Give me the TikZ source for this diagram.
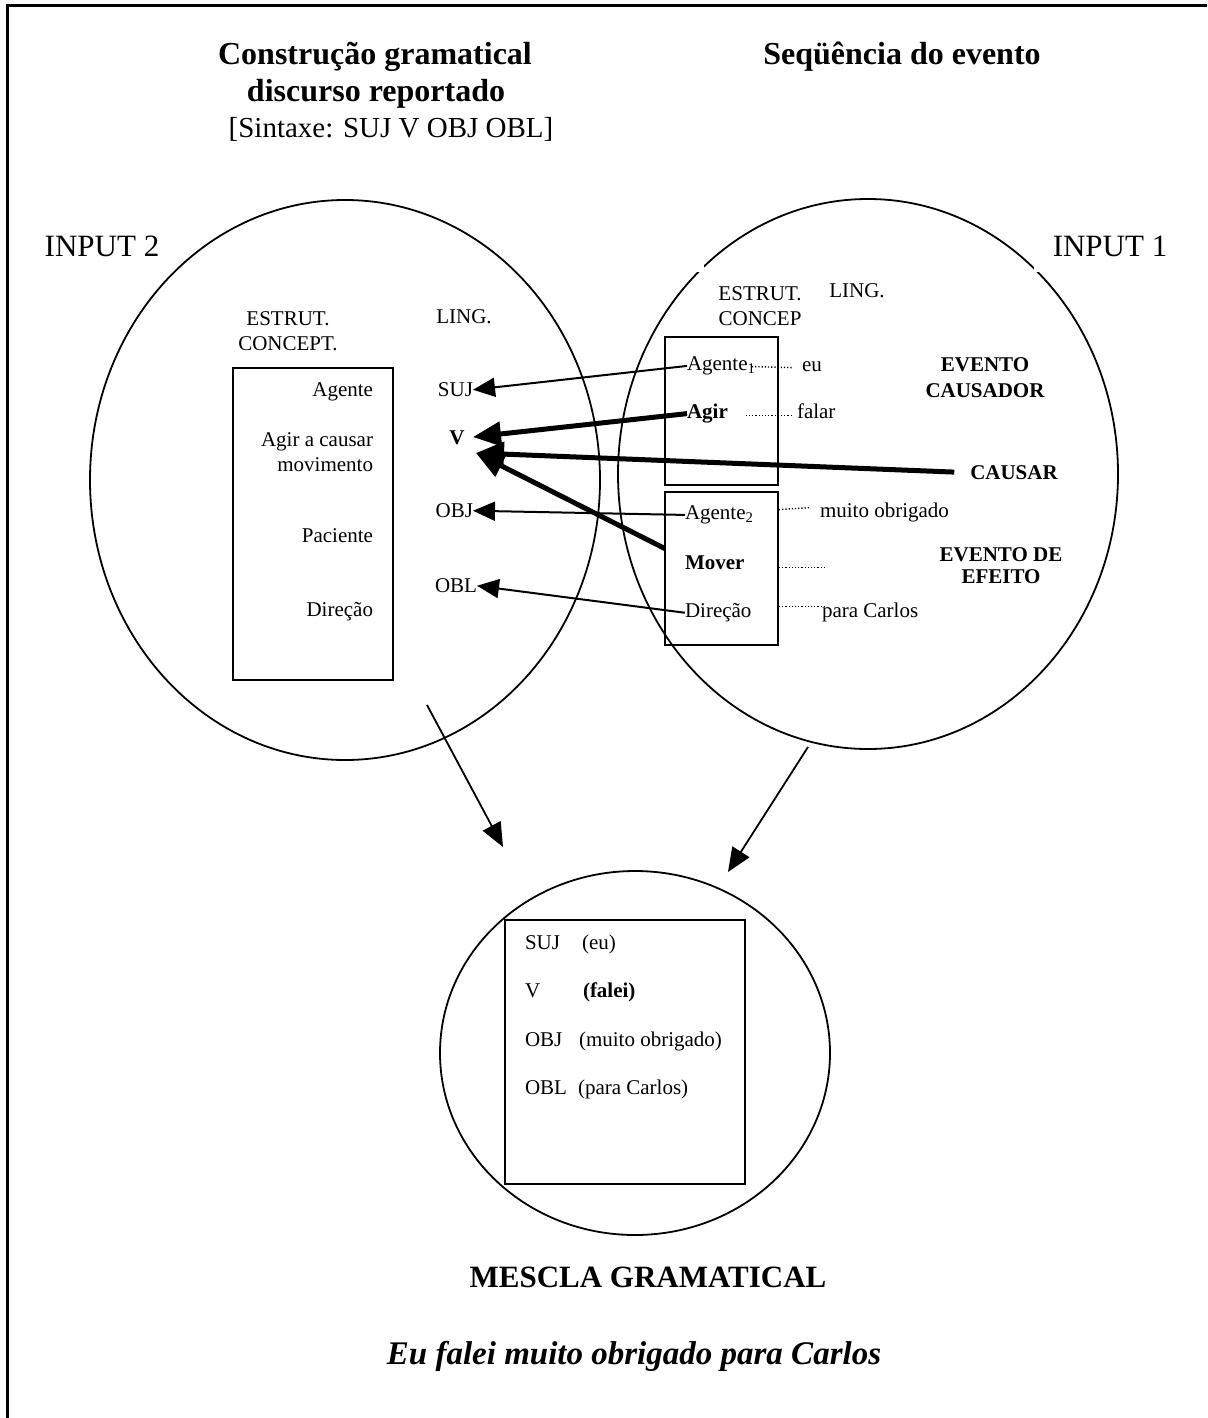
\documentclass[tikz,border=0pt]{standalone}
\usepackage{fontspec}
\setmainfont{Liberation Serif}
\usetikzlibrary{arrows.meta,calc}

\newcommand\fsz[2]{\fontsize{#1}{#2}\selectfont}

\begin{document}
\begin{tikzpicture}[x=0.5pt,y=-0.5pt,
  every node/.style={inner sep=0pt,outer sep=0pt},
  txt/.style={font=\fsz{10.5}{12.5}},
  btxt/.style={font=\fsz{10.5}{12.5}\bfseries},
  oval/.style={line width=0.9pt},
  frame/.style={draw,line width=1pt},
  thinarrow/.style={line width=1pt,-{Triangle[length=11pt,width=9.5pt]}},
  thickarrow/.style={line width=2.5pt,-{Triangle[length=14pt,width=12pt]}},
  bigarrow/.style={line width=0.9pt,-{Triangle[length=12pt,width=10pt]}},
  dotln/.style={line width=0.7pt,dash pattern=on 0.6pt off 1pt}]

\useasboundingbox (0,0) rectangle (1207,1418);
\draw[line width=1.5pt] (7,1418) -- (7,6) -- (1207,6);

% headings
\node[font=\fsz{16}{18}\bfseries,anchor=mid] (t1) at (375,60) {Construção gramatical};
\node[font=\fsz{16}{18}\bfseries,anchor=mid] (t2) at (376,97) {discurso reportado};
\node[font=\fsz{14.5}{17},anchor=mid] (t3) at (391,133) {[Sintaxe: SUJ V OBJ OBL]};
\node[font=\fsz{16}{18}\bfseries,anchor=mid] (t4) at (902,60) {Seqüência do evento};

% the two input spaces and the blend
\draw[oval] (345,480) ellipse [x radius=127.5pt, y radius=140pt];
\draw[oval] (868,474) ellipse [x radius=125pt, y radius=137.5pt];
\fill[white] (697,263) rectangle (704,272);
\fill[white] (1034,262) rectangle (1042,272);
\draw[oval] (635,1053) ellipse [x radius=97.5pt, y radius=91pt];

\node[font=\fsz{15.5}{18},anchor=mid] (in2) at (102,252) {INPUT 2};
\node[font=\fsz{15.5}{18},anchor=mid] (in1) at (1110,252) {INPUT 1};

% input 2: grammatical construction
\node[txt,align=center] (estL) at (288,331) {ESTRUT.\\CONCEPT.};
\node[txt,anchor=mid] (lingL) at (464,319) {LING.};
\node[frame,minimum width=80pt,minimum height=156pt] (boxL) at (313,524) {};
\node[txt,anchor=mid east] (agL) at (373,392) {Agente};
\node[txt,align=right,anchor=east] (agirL) at (373,452) {Agir a causar\\movimento};
\node[txt,anchor=mid east] (pacL) at (373,538) {Paciente};
\node[txt,anchor=mid east] (dirL) at (373,612) {Direção};

\node[txt,anchor=mid east] (suj) at (473,392) {SUJ};
\node[btxt,anchor=mid] (verb) at (457,440) {V};
\node[txt,anchor=mid east] (obj) at (473,513) {OBJ};
\node[txt,anchor=mid east] (obl) at (477,588) {OBL};
\coordinate (vtipA) at (473,437);
\coordinate (vtipB) at (476,453);

% input 1: event sequence
\node[txt,align=center] (estR) at (760,306) {ESTRUT.\\CONCEP};
\node[txt,anchor=mid] (lingR) at (857,293) {LING.};
\node[frame,minimum width=56.5pt,minimum height=74pt] (boxUp) at (721.5,411) {};
\node[frame,minimum width=56.5pt,minimum height=76.5pt] (boxLo) at (721.5,568.5) {};

\node[txt,anchor=mid west] (ag1) at (687,366) {Agente\textsubscript{1}};
\node[btxt,anchor=mid west] (agir) at (687,414) {Agir};
\node[txt,anchor=mid west] (eu) at (802,367) {eu};
\node[txt,anchor=mid west] (falar) at (797,414) {falar};
\node[font=\fsz{10.5}{13}\bfseries,align=center] (evc) at (985,378) {EVENTO\\CAUSADOR};
\node[btxt,anchor=mid] (causar) at (1014,475) {CAUSAR};
\node[txt,anchor=mid west] (ag2) at (685,515) {Agente\textsubscript{2}};
\node[txt,anchor=mid west] (muito) at (820,513) {muito obrigado};
\node[btxt,anchor=mid west] (mover) at (685,565) {Mover};
\node[font=\fsz{10.5}{11}\bfseries,align=center] (eve) at (1001,566) {EVENTO DE\\EFEITO};
\node[txt,anchor=mid west] (dirR) at (685,613) {Direção};
\node[txt,anchor=mid west] (para) at (822,613) {para Carlos};

% mappings between the inputs
\draw[thinarrow] (ag1.west) -- (suj.east);
\draw[thickarrow] (agir.west) -- (vtipA);
\draw[thickarrow,shorten <=8pt] (causar.west) -- (vtipB);
\draw[thickarrow] ($(boxLo.north west)!0.37!(boxLo.south west)$) -- (vtipB);
\draw[thinarrow] (ag2.west) -- (obj.east);
\draw[thinarrow] (dirR.west) -- (obl.east);

% dotted leaders to the linguistic forms
\draw[dotln] ($(ag1.base east)+(-4,-4)$) -- ($(eu.base west)+(-10,-4)$);
\draw[dotln] ($(agir.base east)+(18,-3)$) -- ($(falar.base west)+(-5,-3)$);
\draw[dotln] ($(boxLo.east|-ag2.base)+(1,-10)$) -- ($(muito.base west)+(-10,-10)$);
\draw[dotln] ($(boxLo.east|-mover.base)+(1,-2)$) -- ++(48,0);
\draw[dotln] ($(boxLo.east|-dirR.base)+(1,-11)$) -- ($(para.base west)+(3,-11)$);

% projection into the blend
\coordinate (fromL) at (427,705);
\coordinate (toL) at (503,847);
\coordinate (fromR) at (808,747);
\coordinate (toR) at (728,872);
\draw[bigarrow] (fromL) -- (toL);
\draw[bigarrow] (fromR) -- (toR);

% blended space
\node[draw,line width=1.3pt,minimum width=120pt,minimum height=132pt] (boxM) at (625,1052) {};
\node[txt,anchor=mid west] (mSuj) at (525,945) {SUJ};
\node[txt,anchor=mid west] (mEu) at (582,945) {(eu)};
\node[txt,anchor=mid west] (mV) at (525,993) {V};
\node[txt,anchor=mid west] (mFalei) at (583,993) {\textbf{(falei)}};
\node[txt,anchor=mid west] (mObj) at (525,1042) {OBJ};
\node[txt,anchor=mid west] (mMuito) at (579,1042) {(muito obrigado)};
\node[txt,anchor=mid west] (mObl) at (525,1090) {OBL};
\node[txt,anchor=mid west] (mPara) at (578,1090) {(para Carlos)};

\node[font=\fsz{15.5}{18}\bfseries,anchor=mid] (mescla) at (648,1283) {MESCLA GRAMATICAL};
\node[font=\fsz{16.5}{19}\bfseries\itshape,anchor=mid] (frase) at (634,1360) {Eu falei muito obrigado para Carlos};
\end{tikzpicture}
\end{document}
